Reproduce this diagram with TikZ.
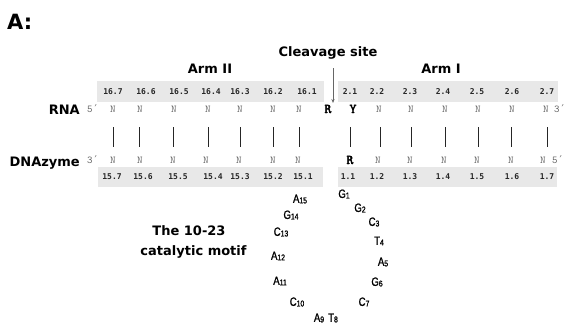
\documentclass[tikz,border=0pt]{standalone}
\usepackage{fontspec}
\setmainfont{DejaVu Sans}
\newfontfamily\labf{DejaVu Sans}
\newfontfamily\numf{DejaVu Sans Mono}
\newfontfamily\nucf{Latin Modern Mono}
\newfontfamily\keyf[FakeBold=3]{Latin Modern Mono}
\newfontfamily\primf{DejaVu Sans Mono}
\newfontfamily\motf[FakeStretch=0.8,FakeBold=1.2]{Liberation Sans}
\usetikzlibrary{arrows.meta}
\definecolor{bandgray}{RGB}{232,232,232}
\newcommand{\mysub}[2]{#1\raisebox{-0.6pt}{\fontsize{8.5}{9}\selectfont #2}}
\begin{document}
\begin{tikzpicture}[x=1pt,y=-1pt,
  lab/.style={font=\labf\bfseries\fontsize{13}{15}\selectfont, inner sep=0pt},
  big/.style={font=\labf\bfseries\fontsize{21}{24}\selectfont, inner sep=0pt},
  num/.style={font=\numf\bfseries\fontsize{8}{9}\selectfont, text=black!85, inner sep=0pt},
  nuc/.style={font=\nucf\fontsize{10.5}{11}\selectfont, text=black!60, inner sep=0pt, anchor=base},
  key/.style={font=\keyf\fontsize{13.5}{14}\selectfont, text=black, inner sep=0pt, anchor=base},
  mot/.style={font=\motf\fontsize{12}{13}\selectfont, inner sep=0pt},
  band/.style={fill=bandgray, draw=none},
  pair/.style={draw=black!85, line width=0.9pt},
  cut/.style={draw=black!60, line width=0.8pt, -{Stealth[length=4pt,width=3.2pt]}}
]
\useasboundingbox (0,0) rectangle (568,324);
\fill[white] (0,0) rectangle (568,324);

% gray bands
\path[band] (97,81) rectangle (324,102);
\path[band] (338,81) rectangle (558,102);
\path[band] (98,167) rectangle (323,187);
\path[band] (338,167) rectangle (557,187);

% titles
\node[big, anchor=base west] (panel) at (7,29) {A:};
\node[lab, anchor=base] (cleave) at (328,56) {Cleavage site};
\node[lab, anchor=base] (arm2) at (210,73) {Arm II};
\node[lab, anchor=base] (arm1) at (441,73) {Arm I};
\node[lab, anchor=base east] (rna) at (80,114) {RNA};
\node[lab, anchor=base east] (dna) at (80,166) {DNAzyme};
\node[lab, anchor=base] (motif1) at (189,235) {The 10-23};
\node[lab, anchor=base] (motif2) at (193.5,255) {catalytic motif};

% cleavage arrow
\coordinate (cs1) at (333,68);
\coordinate (cs2) at (333,103);
\draw[cut] (cs1) -- (cs2);

% position numbers
\foreach \x/\t [count=\i] in {113/16.7,146/16.6,179/16.5,211/16.4,240/16.3,273/16.2,307/16.1,350/2.1,377/2.2,410/2.3,443/2.4,477/2.5,512/2.6,547/2.7}
  \node[num] (tn\i) at (\x,92) {\t};
\foreach \x/\t [count=\i] in {112/15.7,143/15.6,178/15.5,213/15.4,240/15.3,273/15.2,303/15.1,348/1.1,377/1.2,410/1.3,443/1.4,477/1.5,512/1.6,547/1.7}
  \node[num] (bn\i) at (\x,177) {\t};

% RNA strand
\node[nuc] (r5) at (93,112) {5{\primf ′}};
\foreach \x [count=\i] in {113,140,174,208,240,273,299}
  \node[nuc] (rl\i) at (\x,112) {N};
\node[key] (rR) at (328,113) {R};
\node[key] (rY) at (353,113) {Y};
\foreach \x [count=\i] in {379,411,445,478,512,546}
  \node[nuc] (rr\i) at (\x,112) {N};
\node[nuc] (r3) at (560,112) {3{\primf ′}};

% DNAzyme strand
\node[nuc] (d3) at (93,163) {3{\primf ′}};
\foreach \x [count=\i] in {113,140,173,206,239,273,298}
  \node[nuc] (dl\i) at (\x,163) {N};
\node[key] (dR) at (350,164) {R};
\foreach \x [count=\i] in {378,410,444,477,511,543}
  \node[nuc] (dr\i) at (\x,163) {N};
\node[nuc] (d5) at (558,163) {5{\primf ′}};

% base-pair ticks
\foreach \x [count=\i] in {113,139,173,208,240,273,299,350,380,411,445,478,511,547}{
  \coordinate (pa\i) at (\x,127);
  \coordinate (pb\i) at (\x,147);
  \draw[pair] (pa\i) -- (pb\i);
}

% catalytic loop
\node[mot] (m15) at (300,199) {\mysub{A}{15}};
\node[mot] (m14) at (291,215) {\mysub{G}{14}};
\node[mot] (m13) at (281,232) {\mysub{C}{13}};
\node[mot] (m12) at (278,256) {\mysub{A}{12}};
\node[mot] (m11) at (280,281) {\mysub{A}{11}};
\node[mot] (m10) at (297,302) {\mysub{C}{10}};
\node[mot] (m9) at (319,318) {\mysub{A}{9}};
\node[mot] (m8) at (333,318) {\mysub{T}{8}};
\node[mot] (m7) at (364,302) {\mysub{C}{7}};
\node[mot] (m6) at (377,282) {\mysub{G}{6}};
\node[mot] (m5) at (383,262) {\mysub{A}{5}};
\node[mot] (m4) at (379,241) {\mysub{T}{4}};
\node[mot] (m3) at (374,222) {\mysub{C}{3}};
\node[mot] (m2) at (360,208) {\mysub{G}{2}};
\node[mot] (m1) at (344,194) {\mysub{G}{1}};
\end{tikzpicture}
\end{document}
